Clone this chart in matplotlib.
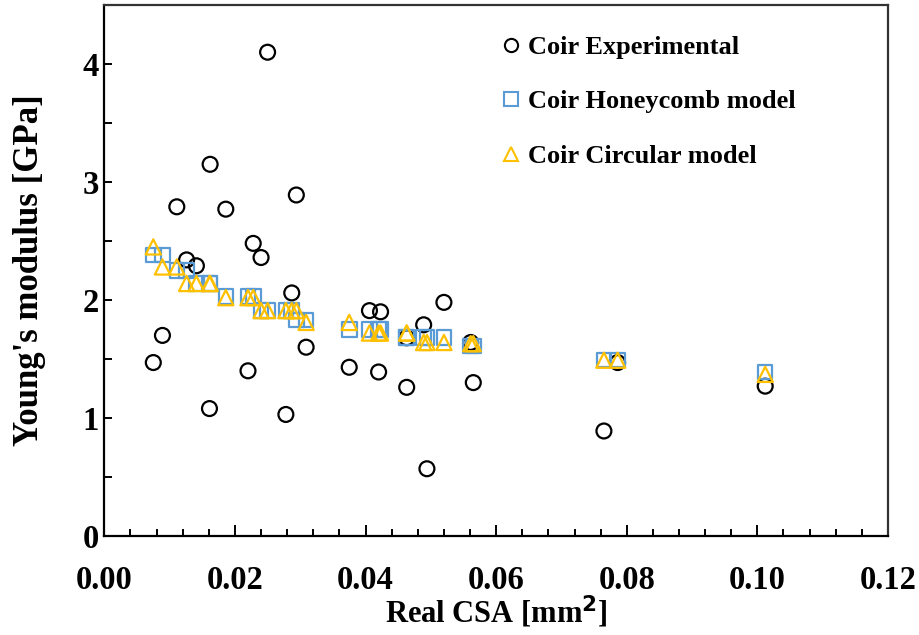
import matplotlib
matplotlib.use("Agg")
import matplotlib.pyplot as plt
from matplotlib.ticker import MultipleLocator, FixedLocator
from matplotlib.lines import Line2D

# Cross-sectional area of each fibre [mm^2]
csa = [0.0075, 0.0089, 0.0111, 0.0126, 0.0141, 0.0161, 0.0162, 0.0186,
       0.0220, 0.0228, 0.0240, 0.0250, 0.0278, 0.0287, 0.0294, 0.0309,
       0.0375, 0.0406, 0.0420, 0.0423, 0.0463, 0.0463, 0.0489, 0.0494,
       0.0520, 0.0561, 0.0565, 0.0765, 0.0786, 0.1012]

# Young's modulus [GPa]
experimental = [1.47, 1.70, 2.79, 2.34, 2.29, 1.08, 3.15, 2.77,
                1.40, 2.48, 2.36, 4.10, 1.03, 2.06, 2.89, 1.60,
                1.43, 1.91, 1.39, 1.90, 1.26, 1.68, 1.79, 0.57,
                1.98, 1.64, 1.30, 0.89, 1.47, 1.27]

honeycomb = [2.38, 2.38, 2.25, 2.25, 2.14, 2.14, 2.14, 2.03,
             2.03, 2.03, 1.91, 1.91, 1.91, 1.91, 1.83, 1.83,
             1.75, 1.75, 1.75, 1.75, 1.68, 1.68, 1.68, 1.68,
             1.68, 1.61, 1.61, 1.49, 1.49, 1.39]

circular = [2.45, 2.28, 2.28, 2.14, 2.14, 2.14, 2.14, 2.02,
            2.02, 2.02, 1.91, 1.91, 1.91, 1.91, 1.91, 1.81,
            1.81, 1.72, 1.72, 1.72, 1.72, 1.72, 1.64, 1.64,
            1.64, 1.63, 1.63, 1.49, 1.49, 1.37]

labels = ["Coir Experimental", "Coir Honeycomb model", "Coir Circular model"]

plt.rcParams["font.family"] = ["Liberation Serif", "DejaVu Serif"]
plt.rcParams["font.weight"] = "bold"
plt.rcParams["mathtext.fontset"] = "custom"
plt.rcParams["mathtext.rm"] = "Liberation Serif:bold"

fig = plt.figure(figsize=(9.2, 6.35), dpi=100)
ax = fig.add_axes([0.1134, 0.1559, 0.8518, 0.8362])

blue = "#5B9BD5"
gold = "#FFC000"

ax.scatter(csa, experimental, s=115, marker="o", facecolors="none",
           edgecolors="black", linewidths=1.6, zorder=3)
ax.scatter(csa, honeycomb, s=110, marker="s", facecolors="none",
           edgecolors=blue, linewidths=1.6, zorder=4)
ax.scatter(csa, circular, s=120, marker="^", facecolors="none",
           edgecolors=gold, linewidths=1.6, zorder=5)

ax.set_xlim(0, 0.12)
ax.set_ylim(0, 4.5)
ax.xaxis.set_major_locator(MultipleLocator(0.02))
ax.xaxis.set_minor_locator(MultipleLocator(0.004))
ax.yaxis.set_major_locator(FixedLocator([0, 1, 2, 3, 4]))
ax.yaxis.set_minor_locator(FixedLocator([0.5, 1.5, 2.5, 3.5]))
ax.xaxis.set_major_formatter(plt.FuncFormatter(lambda v, p: f"{v:.2f}"))
ax.yaxis.set_major_formatter(plt.FuncFormatter(lambda v, p: f"{v:.0f}"))

ax.tick_params(axis="both", which="both", direction="in", width=1.4,
               labelsize=23.5, top=False, right=False)
ax.tick_params(axis="x", which="major", length=8, pad=21)
ax.tick_params(axis="x", which="minor", length=5)
ax.tick_params(axis="y", which="major", length=6, pad=4)
ax.tick_params(axis="y", which="minor", length=6)
for lbl in ax.get_xticklabels() + ax.get_yticklabels():
    lbl.set_fontweight("bold")

for side in ["left", "bottom"]:
    ax.spines[side].set_linewidth(1.6)
for side in ["top", "right"]:
    ax.spines[side].set_linewidth(1.6)
    ax.spines[side].set_color("#333333")

ax.set_xlabel(r"Real CSA [mm$^{\mathbf{2}}$]", fontsize=22, fontweight="bold",
              labelpad=-2)
ax.set_ylabel("Young's modulus [GPa]", fontsize=25, fontweight="bold",
              labelpad=26)

handles = [
    Line2D([], [], linestyle="none", marker="o", markersize=9.5,
           markerfacecolor="none", markeredgecolor="black", markeredgewidth=1.5),
    Line2D([], [], linestyle="none", marker="s", markersize=9.5,
           markerfacecolor="none", markeredgecolor=blue, markeredgewidth=1.5),
    Line2D([], [], linestyle="none", marker="^", markersize=9.5,
           markerfacecolor="none", markeredgecolor=gold, markeredgewidth=1.5),
]
ax.legend(handles, labels, loc="upper left", bbox_to_anchor=(0.467, 0.992),
          frameon=False, prop={"family": "Liberation Serif", "weight": "bold",
                               "size": 19},
          handletextpad=0.1, handlelength=1.1, labelspacing=1.17,
          borderaxespad=0.6)

fig.savefig("out.png", dpi=100)
